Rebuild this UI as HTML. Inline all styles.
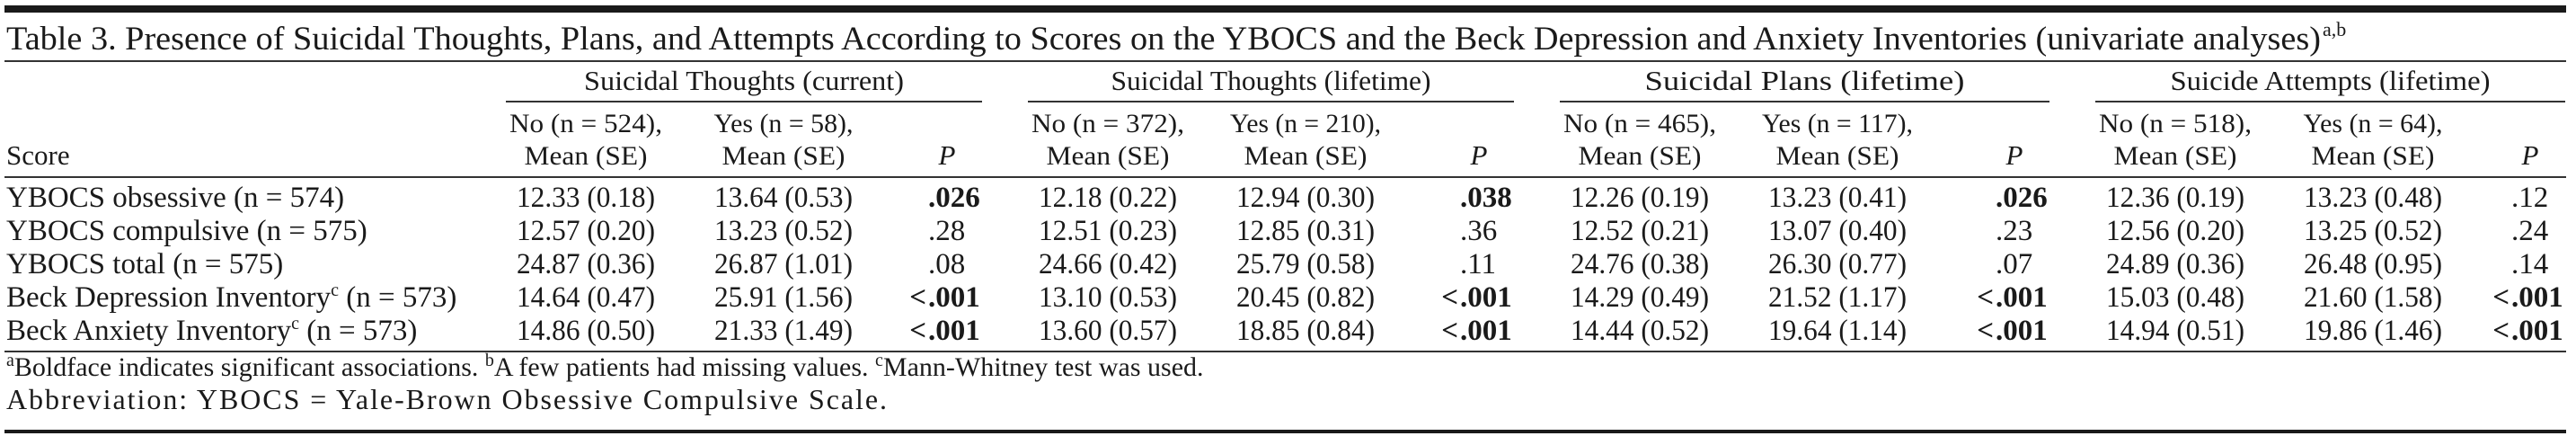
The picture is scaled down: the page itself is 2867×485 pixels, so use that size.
<!DOCTYPE html>
<html><head><meta charset="utf-8">
<style>
html,body{margin:0;padding:0;background:#fff;}
svg{display:block;font-family:"Liberation Serif",serif;fill:#1a1a1a;}
</style></head>
<body>
<svg id="tbl" width="2867" height="485" viewBox="0 0 2867 485" xmlns="http://www.w3.org/2000/svg">
<rect x="5" y="6" width="2851" height="8" fill="#1a1a1a"/>
<text x="7" y="55" font-size="37" textLength="2576" lengthAdjust="spacingAndGlyphs">Table 3. Presence of Suicidal Thoughts, Plans, and Attempts According to Scores on the YBOCS and the Beck Depression and Anxiety Inventories (univariate analyses)</text>
<text x="2585" y="40" font-size="22">a,b</text>
<rect x="5" y="67" width="2851" height="2" fill="#333"/>
<text x="7" y="183" font-size="31">Score</text>
<rect x="5" y="196" width="2851" height="2" fill="#333"/>
<rect x="5" y="390" width="2851" height="2" fill="#333"/>
<text x="7" y="418" font-size="30"><tspan font-size="20" dy="-11">a</tspan><tspan dy="11">Boldface indicates significant associations. </tspan><tspan font-size="20" dy="-11">b</tspan><tspan dy="11">A few patients had missing values. </tspan><tspan font-size="20" dy="-11">c</tspan><tspan dy="11">Mann-Whitney test was used.</tspan></text>
<text x="7" y="455" font-size="32" textLength="980" lengthAdjust="spacing">Abbreviation: YBOCS = Yale-Brown Obsessive Compulsive Scale.</text>
<rect x="5" y="478" width="2851" height="4" fill="#1a1a1a"/>
<g id="body"></g>
</svg>
<script>
const groups = ["Suicidal Thoughts (current)", "Suicidal Thoughts (lifetime)", "Suicidal Plans (lifetime)", "Suicide Attempts (lifetime)"];
const noHeaders = ["No (n = 524),", "No (n = 372),", "No (n = 465),", "No (n = 518),"];
const yesHeaders = ["Yes (n = 58),", "Yes (n = 210),", "Yes (n = 117),", "Yes (n = 64),"];
const rowLabels = ["YBOCS obsessive (n = 574)", "YBOCS compulsive (n = 575)", "YBOCS total (n = 575)", "Beck Depression Inventory|c| (n = 573)", "Beck Anxiety Inventory|c| (n = 573)"];
const noValues = [
 ["12.33 (0.18)","12.57 (0.20)","24.87 (0.36)","14.64 (0.47)","14.86 (0.50)"],
 ["12.18 (0.22)","12.51 (0.23)","24.66 (0.42)","13.10 (0.53)","13.60 (0.57)"],
 ["12.26 (0.19)","12.52 (0.21)","24.76 (0.38)","14.29 (0.49)","14.44 (0.52)"],
 ["12.36 (0.19)","12.56 (0.20)","24.89 (0.36)","15.03 (0.48)","14.94 (0.51)"]];
const yesValues = [
 ["13.64 (0.53)","13.23 (0.52)","26.87 (1.01)","25.91 (1.56)","21.33 (1.49)"],
 ["12.94 (0.30)","12.85 (0.31)","25.79 (0.58)","20.45 (0.82)","18.85 (0.84)"],
 ["13.23 (0.41)","13.07 (0.40)","26.30 (0.77)","21.52 (1.17)","19.64 (1.14)"],
 ["13.23 (0.48)","13.25 (0.52)","26.48 (0.95)","21.60 (1.58)","19.86 (1.46)"]];
const pValues = [
 ["*.026",".28",".08","*<.001","*<.001"],
 ["*.038",".36",".11","*<.001","*<.001"],
 ["*.026",".23",".07","*<.001","*<.001"],
 [".12",".24",".14","*<.001","*<.001"]];

const NS="http://www.w3.org/2000/svg";
const body=document.getElementById('body');
const gStart=[563,1144,1736,2332], gEnd=[1093,1685,2281,2855];
const rowY0=230, rowStep=37;
function rowY(i){return rowY0+i*rowStep;}
function txt(x,y,s,size,anchor){
  const t=document.createElementNS(NS,'text');
  t.setAttribute('x',x);t.setAttribute('y',y);t.setAttribute('font-size',size);
  if(anchor)t.setAttribute('text-anchor',anchor);
  t.textContent=s;body.appendChild(t);return t;
}
function fit(t,w){t.setAttribute('textLength',w);t.setAttribute('lengthAdjust','spacingAndGlyphs');}
groups.forEach((g,k)=>{
  const s=gStart[k], e=gEnd[k];
  let t=txt((s+e)/2,100,g,31,'middle');fit(t,356);
  
  
  const r=document.createElementNS(NS,'rect');
  r.setAttribute('x',s);r.setAttribute('y',112);r.setAttribute('width',e-s);r.setAttribute('height',2);r.setAttribute('fill','#333');
  
  
  body.appendChild(r);
  t=txt(s+89,147,noHeaders[k],30,'middle');fit(t,170);
  
  
  t=txt(s+89,183,'Mean (SE)',30,'middle');fit(t,137);
  
  
  t=txt(s+309,147,yesHeaders[k],30,'middle');fit(t,yesHeaders[k].length>13?168:155);
  
  
  t=txt(s+309,183,'Mean (SE)',30,'middle');fit(t,137);
  
  
  t=txt(e-39,183,'P',31,'middle');t.setAttribute('font-style','italic');
  
  
  for(let i=0;i<rowLabels.length;i++){
    t=txt(s+89,rowY(i),noValues[k][i],33,'middle');fit(t,154);
    
    
    t=txt(s+309,rowY(i),yesValues[k][i],33,'middle');fit(t,154);
    
    
    let p=pValues[k][i], bold=p[0]==='*'; if(bold)p=p.slice(1);
    const dx=e-60;
    let lt=''; if(p[0]==='<'){lt='<';p=p.slice(1);}
    t=txt(dx,rowY(i),p,33,'start');
    if(bold)t.setAttribute('font-weight','bold');
    
    
    if(lt){const u=txt(dx-2,rowY(i),'<',33,'end');if(bold)u.setAttribute('font-weight','bold');
      
      }
  }
});
rowLabels.forEach((l,i)=>{
  const parts=l.split('|');
  const t=document.createElementNS(NS,'text');
  t.setAttribute('x',7);t.setAttribute('y',rowY(i));t.setAttribute('font-size',33);
  
  
  if(parts.length===1){t.textContent=l;}
  else{
    const a=document.createElementNS(NS,'tspan');a.textContent=parts[0];
    const b=document.createElementNS(NS,'tspan');b.textContent=parts[1];b.setAttribute('font-size',20);b.setAttribute('dy',-12);
    const c=document.createElementNS(NS,'tspan');c.textContent=parts[2];c.setAttribute('dy',12);
    t.appendChild(a);t.appendChild(b);t.appendChild(c);
  }
  body.appendChild(t);
});
</script>
</body></html>
